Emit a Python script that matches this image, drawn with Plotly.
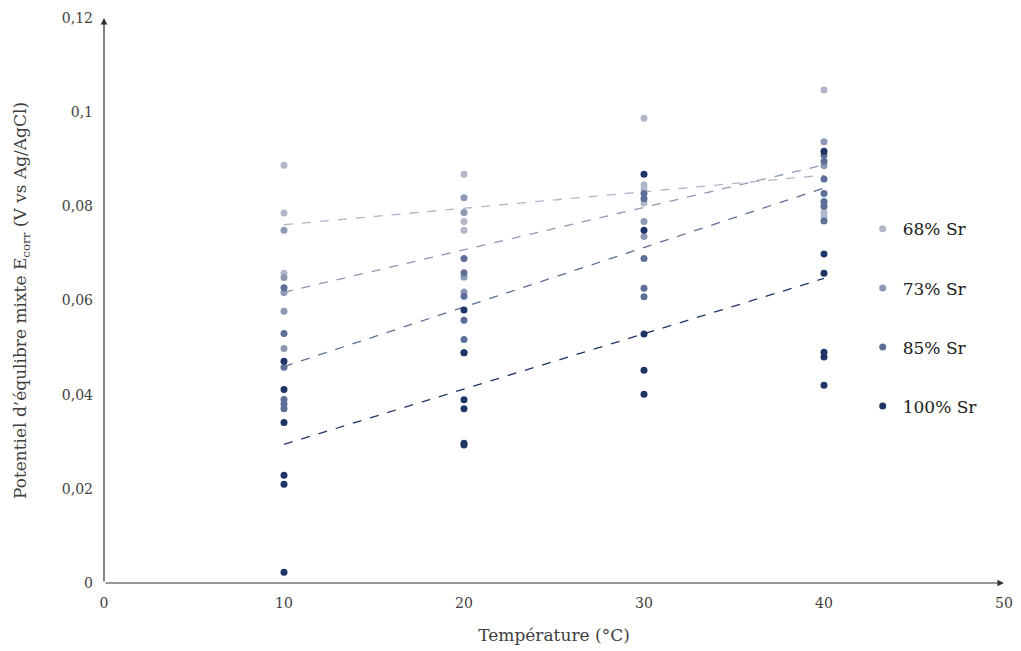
import numpy as np
import plotly.graph_objects as go

# ---- data ----
series_names = ["68% Sr", "73% Sr", "85% Sr", "100% Sr"]
series_colors = ["#b1b6c8", "#8e98b3", "#5e6f97", "#1f3565"]

x_68 = [10, 10, 10, 20, 20, 20, 20, 30, 30, 30, 30, 40, 40, 40, 40]
y_68 = [0.0887, 0.0786, 0.0658, 0.0868, 0.0768, 0.0749, 0.0650, 0.0987, 0.0846, 0.0837, 0.0807,
        0.1047, 0.0800, 0.0787, 0.0778]

x_73 = [10, 10, 10, 10, 10, 20, 20, 20, 20, 30, 30, 40, 40]
y_73 = [0.0749, 0.0649, 0.0617, 0.0577, 0.0498, 0.0818, 0.0787, 0.0650, 0.0618, 0.0768, 0.0736, 0.0937, 0.0886]

x_85 = [10, 10, 10, 10, 10, 10, 20, 20, 20, 20, 20, 20, 30, 30, 30, 30, 30, 40, 40, 40, 40, 40, 40, 40]
y_85 = [0.0627, 0.0530, 0.0458, 0.0390, 0.0380, 0.0370, 0.0689, 0.0659, 0.0609, 0.0558, 0.0517, 0.0489,
        0.0827, 0.0816, 0.0689, 0.0626, 0.0608, 0.0909, 0.0896, 0.0858, 0.0827, 0.0810, 0.0800, 0.0769]

x_100 = [10, 10, 10, 10, 10, 10, 20, 20, 20, 20, 20, 20, 30, 30, 30, 30, 30, 40, 40, 40, 40, 40, 40]
y_100 = [0.0471, 0.0411, 0.0341, 0.0229, 0.0210, 0.0023, 0.0580, 0.0489, 0.0389, 0.0370, 0.0297, 0.0293,
         0.0868, 0.0749, 0.0529, 0.0452, 0.0401, 0.0917, 0.0699, 0.0658, 0.0490, 0.0480, 0.0420]

x_ticks = [0, 10, 20, 30, 40, 50]
y_ticks = [0, 0.02, 0.04, 0.06, 0.08, 0.1, 0.12]

xs = [x_68, x_73, x_85, x_100]
ys = [y_68, y_73, y_85, y_100]

FONT = "DejaVu Serif"
fig = go.Figure()

# trend lines (least squares)
for name, col, x, y in zip(series_names, series_colors, xs, ys):
    a, b = np.polyfit(x, y, 1)
    xl = np.array([min(x), max(x)])
    fig.add_trace(go.Scatter(x=xl, y=a * xl + b, mode="lines",
                             line=dict(color=col, width=1.3, dash="dash"),
                             showlegend=False, hoverinfo="skip"))

for i, (name, col, x, y) in enumerate(zip(series_names, series_colors, xs, ys)):
    fig.add_trace(go.Scatter(x=x, y=y, mode="markers", name=name,
                             legendgroup=f"g{i}",
                             marker=dict(color=col, size=7)))

axis_col = "#333333"
fig.add_annotation(x=0, y=y_ticks[-1], ax=0, ay=0, xref="x", yref="y", axref="x", ayref="y",
                   showarrow=True, arrowhead=2, arrowsize=1.1, arrowwidth=1.2, arrowcolor=axis_col, text="")
fig.add_annotation(x=x_ticks[-1], y=0, ax=0, ay=0, xref="x", yref="y", axref="x", ayref="y",
                   showarrow=True, arrowhead=2, arrowsize=1.1, arrowwidth=1.2, arrowcolor=axis_col, text="")

fig.update_layout(
    width=1021, height=651,
    margin=dict(l=104, r=17, t=18, b=68),
    plot_bgcolor="white", paper_bgcolor="white",
    separators=", ",
    font=dict(family=FONT, size=14, color="#404040"),
    legend=dict(x=0.843, y=0.658, xanchor="left", yanchor="top",
                font=dict(family=FONT, size=17, color="#202020"),
                tracegroupgap=34, traceorder="grouped",
                bgcolor="rgba(0,0,0,0)"),
    xaxis=dict(range=[0, 50], tickvals=x_ticks, showgrid=False, zeroline=False,
               showline=False, ticks="", automargin=False, ticklabelstandoff=10,
               tickfont=dict(size=14, color="#404040"),
               title=dict(text="Température (°C)", font=dict(size=17, color="#404040"), standoff=19)),
    yaxis=dict(range=[0, 0.12], tickvals=y_ticks, showgrid=False, zeroline=False,
               showline=False, ticks="", automargin=False, ticklabelstandoff=10,
               tickfont=dict(size=14, color="#404040"),
               title=dict(text="Potentiel d’équlibre mixte E<sub>corr</sub> (V vs Ag/AgCl)",
                          font=dict(size=17, color="#404040"), standoff=30)),
)

fig.write_html("out.html", config={"displayModeBar": False},
               post_script="document.body.style.margin='0px';")
